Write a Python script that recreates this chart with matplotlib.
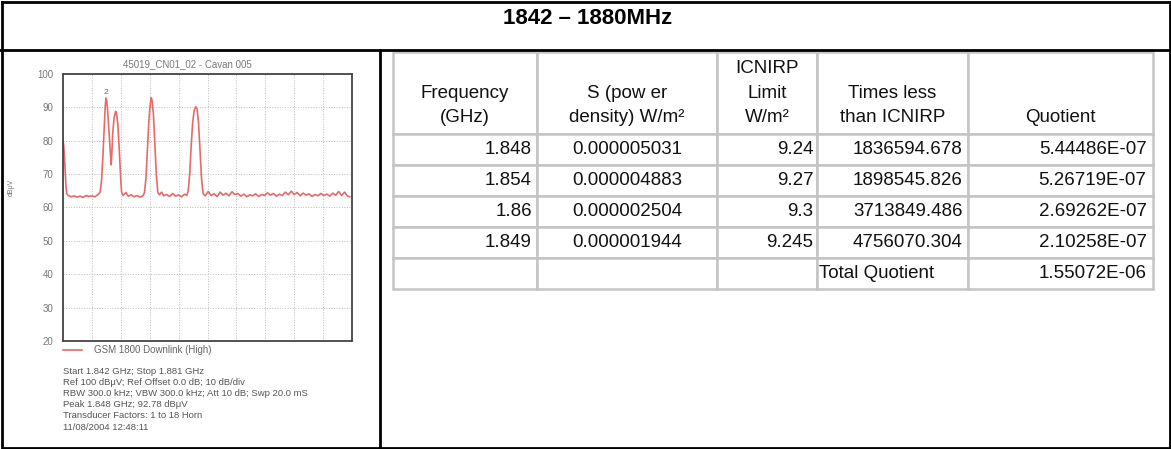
import numpy as np
import matplotlib
matplotlib.use('Agg')
import matplotlib.pyplot as plt

plt.rcParams['font.family'] = ['Liberation Sans', 'DejaVu Sans']

W, H = 1171, 449

# --- spectrum trace (GHz, dBuV) ---
freq_ghz = [
    1.8420, 1.8421, 1.8422, 1.8423, 1.8424, 1.8425, 1.8427, 1.8431, 1.8435, 1.8439,
    1.8443, 1.8447, 1.8451, 1.8455, 1.8459, 1.8463, 1.8467, 1.8470, 1.8472, 1.8474,
    1.8476, 1.8477, 1.8478, 1.8479, 1.8480, 1.8482, 1.8484, 1.8485, 1.8486, 1.8487,
    1.8489, 1.8491, 1.8492, 1.8494, 1.8496, 1.8498, 1.8499, 1.8501, 1.8505, 1.8508,
    1.8512, 1.8516, 1.8520, 1.8524, 1.8528, 1.8530, 1.8532, 1.8534, 1.8536, 1.8538,
    1.8539, 1.8540, 1.8542, 1.8544, 1.8546, 1.8548, 1.8550, 1.8553, 1.8556, 1.8560,
    1.8564, 1.8568, 1.8572, 1.8576, 1.8580, 1.8584, 1.8587, 1.8589, 1.8591, 1.8593,
    1.8595, 1.8597, 1.8599, 1.8601, 1.8603, 1.8605, 1.8607, 1.8609, 1.8612, 1.8616,
    1.8620, 1.8624, 1.8628, 1.8632, 1.8636, 1.8640, 1.8644, 1.8648, 1.8652, 1.8656,
    1.8660, 1.8664, 1.8668, 1.8672, 1.8676, 1.8680, 1.8684, 1.8688, 1.8692, 1.8696,
    1.8700, 1.8704, 1.8708, 1.8712, 1.8716, 1.8720, 1.8724, 1.8728, 1.8732, 1.8736,
    1.8740, 1.8744, 1.8748, 1.8752, 1.8756, 1.8760, 1.8764, 1.8768, 1.8772, 1.8776,
    1.8780, 1.8784, 1.8788, 1.8792, 1.8796, 1.8800, 1.8804, 1.8807,
]
level_dbuv = [
    80.0, 78.5, 75.0, 70.5, 66.5, 64.2, 63.6, 63.2, 63.5, 63.1,
    63.4, 63.0, 63.6, 63.3, 63.5, 63.2, 63.8, 64.5, 68.0, 76.0,
    86.0, 90.5, 92.8, 92.0, 89.5, 83.0, 76.0, 72.8, 76.5, 82.0,
    87.0, 88.8, 88.5, 85.0, 77.0, 68.0, 64.8, 63.6, 64.5, 63.4,
    63.8, 63.2, 63.6, 63.1, 63.5, 64.5, 69.0, 78.0, 86.5, 91.5,
    92.9, 92.3, 88.0, 79.0, 69.5, 64.5, 63.8, 64.6, 63.5, 63.9,
    63.3, 64.2, 63.4, 63.8, 63.2, 64.0, 63.6, 65.0, 70.0, 78.5,
    85.5, 89.0, 90.2, 89.5, 85.0, 77.0, 68.5, 64.2, 63.5, 64.8,
    63.6, 64.1, 63.3, 64.6, 63.7, 64.3, 63.5, 64.7, 63.9, 64.2,
    63.4, 64.0, 63.2, 63.8, 63.5, 64.1, 63.3, 63.9, 63.6, 64.4,
    63.7, 64.2, 63.4, 64.0, 63.6, 64.6, 63.8, 64.9, 63.9, 64.5,
    63.5, 64.3, 63.7, 64.1, 63.3, 63.9, 63.5, 64.2, 63.6, 64.0,
    63.4, 64.3, 63.7, 64.8, 63.6, 64.6, 63.4, 63.2,
]
peak_freq, peak_level = 1.8478, 92.78

info_lines = [
    "Start 1.842 GHz; Stop 1.881 GHz",
    "Ref 100 dB\u03bcV; Ref Offset 0.0 dB; 10 dB/div",
    "RBW 300.0 kHz; VBW 300.0 kHz; Att 10 dB; Swp 20.0 mS",
    "Peak 1.848 GHz; 92.78 dB\u03bcV",
    "Transducer Factors: 1 to 18 Horn",
    "11/08/2004 12:48:11",
]

# --- table data ---
col_labels = ["Frequency\n(GHz)", "S (pow er\ndensity) W/m\u00b2", "ICNIRP\nLimit\nW/m\u00b2",
              "Times less\nthan ICNIRP", "Quotient"]
table_freq = [1.848, 1.854, 1.86, 1.849]
power_density = [0.000005031, 0.000004883, 0.000002504, 0.000001944]
icnirp_limit = [9.24, 9.27, 9.3, 9.245]
times_less = [1836594.678, 1898545.826, 3713849.486, 4756070.304]
quotient = [5.44486E-07, 5.26719E-07, 2.69262E-07, 2.10258E-07]
total_quotient = 1.55072E-06

fig = plt.figure(figsize=(W / 100, H / 100), dpi=100)

# overlay in pixel coordinates for frame, title, table
oax = fig.add_axes([0, 0, 1, 1])
oax.set_xlim(0, W)
oax.set_ylim(H, 0)
oax.axis('off')

oax.plot([1.5, W - 1.5, W - 1.5, 1.5, 1.5], [1.5, 1.5, H - 1.5, H - 1.5, 1.5],
         color='black', lw=2, solid_joinstyle='miter')
oax.plot([0, W], [50, 50], color='black', lw=2)
oax.plot([380, 380], [50, H], color='black', lw=2)
oax.text(588, 19, "1842 \u2013 1880MHz", fontsize=16, fontweight='bold',
         ha='center', va='center')

# table
cell_text = []
for i in range(len(table_freq)):
    cell_text.append([f"{table_freq[i]:g}", f"{power_density[i]:.9f}",
                      f"{icnirp_limit[i]:g}", f"{times_less[i]:.3f}",
                      f"{quotient[i]:.5E}"])
cell_text.append(["", "", "", "Total Quotient", f"{total_quotient:.5E}"])

n_lines = max(lbl.count("\n") for lbl in col_labels)
header = ["\n" * (n_lines - lbl.count("\n")) + lbl for lbl in col_labels]

col_w = [144, 180, 100, 151, 185]
tbl = oax.table(cellText=cell_text, colLabels=header,
                colWidths=[c / sum(col_w) for c in col_w], cellLoc='center',
                bbox=[393 / W, (H - 289) / H, 760 / W, 237 / H])
tbl.auto_set_font_size(False)
tbl.set_fontsize(13.5)
col_ha = ['right', 'center', 'right', 'right', 'right']
for (r, c), cell in tbl.get_celld().items():
    cell.set_edgecolor('#c4c4c4')
    cell.set_linewidth(1.8)
    cell.PAD = 0.035
    cell.set_height(82 if r == 0 else 31)
    txt = cell.get_text()
    txt.set_color('#111111')
    if r == 0:
        txt.set_linespacing(1.55)
    else:
        txt.set_ha(col_ha[c])
        if txt.get_text() == "Total Quotient":
            txt.set_ha('left')
            cell.PAD = 0.015

# spectrum plot
sax = fig.add_axes([63 / W, (H - 341) / H, 289 / W, 267 / H])
sax.plot(freq_ghz, level_dbuv, color='#e66a6a', lw=1.2, label='GSM 1800 Downlink (High)')
sax.text(peak_freq, peak_level + 0.6, "2", fontsize=6, color='#666666',
         ha='center', va='bottom')
sax.set_xlim(1.842, 1.881)
sax.set_ylim(20, 100)
sax.set_yticks(range(20, 101, 10))
sax.set_xticks(np.linspace(1.842, 1.881, 11))
sax.grid(True, ls=':', color='#bbbbbb', lw=0.7)
sax.tick_params(length=0, labelsize=7, labelcolor='#777777', pad=7)
sax.tick_params(axis='x', labelbottom=False)
for sp in sax.spines.values():
    sp.set_color('#444444')
    sp.set_linewidth(1.3)
sax.set_title("45019_CN01_02 - Cavan 005", fontsize=7, color='#777777', x=0.43, pad=5)
sax.set_ylabel("dB\u03bcV", fontsize=5, color='#777777')
sax.yaxis.set_label_coords(-48 / 289, 0.577)
sax.legend(loc='upper left', bbox_to_anchor=(0, -0.015), frameon=False, fontsize=7,
           labelcolor='#666666', handlelength=2.0, borderpad=0, borderaxespad=0,
           handletextpad=1.2)

oax.text(63, 367, "\n".join(info_lines), fontsize=6.8, color='#555555',
         ha='left', va='top', linespacing=1.3)

fig.savefig('out.png', dpi=100)
